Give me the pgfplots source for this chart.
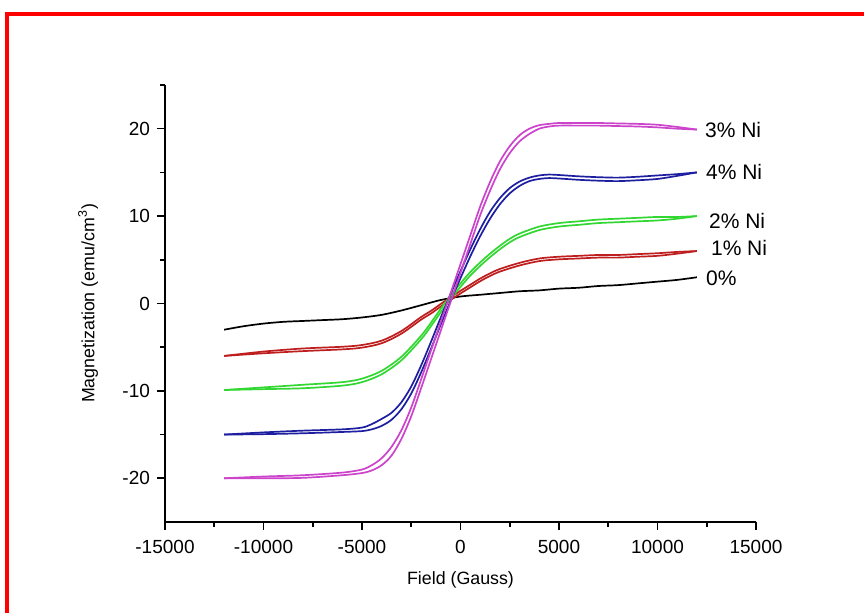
\documentclass[border=0pt]{standalone}
\usepackage{fontspec}
\setmainfont{Liberation Sans}
\usepackage{pgfplots}
\pgfplotsset{compat=1.18}
\definecolor{cM}{RGB}{204,68,204}
\definecolor{cB}{RGB}{30,30,160}
\definecolor{cG}{RGB}{50,215,50}
\definecolor{cR}{RGB}{190,30,30}

\begin{document}
\begin{tikzpicture}
\useasboundingbox (0,0) rectangle (432pt,306.5pt);
\fill[white] (0,0) rectangle (432pt,306.5pt);
\draw[red, line width=2pt] (3.5pt,0) -- (3.5pt,299.5pt) -- (432pt,299.5pt);
\begin{axis}[
  at={(82.5pt,45.5pt)}, anchor=south west, scale only axis,
  width=295.5pt, height=218.5pt,
  xmin=-15000, xmax=15000, ymin=-25, ymax=25,
  axis x line*=bottom, axis y line*=left,
  axis line style={line width=1pt, -},
  xtick={-15000,-10000,...,15000}, ytick={-20,-10,0,10,20},
  minor x tick num=1, minor ytick={-15,-5,5,15,25},
  tick align=outside, major tick length=4pt, minor tick length=2.5pt,
  tick style={line width=0.8pt, black},
  scaled x ticks=false,
  /pgf/number format/1000 sep={},
  /pgf/number format/assume math mode=true,
  tick label style={font=\fontsize{9.5}{11}\selectfont},
  xticklabel style={yshift=-1.5pt},
  label style={font=\fontsize{8.9}{10}\selectfont},
  xlabel={Field (Gauss)},
  ylabel={Magnetization (emu/cm\textsuperscript{3})},
  xlabel style={at={(axis description cs:0.5,-0.133)}, anchor=center},
  ylabel style={at={(axis description cs:-0.130,0.5)}, anchor=center},
  clip=false,
  every axis plot/.append style={line width=0.85pt, smooth},
]
% 0%
\addplot[black] coordinates {
  (-12000,-3.0)(-11000,-2.6)(-10000,-2.3)(-9000,-2.1)(-8000,-2.0)(-7000,-1.9)
  (-6000,-1.8)(-5000,-1.6)(-4000,-1.3)(-3000,-0.8)(-2000,-0.2)(-1000,0.4)
  (0,0.8)(1000,1.0)(2000,1.2)(3000,1.4)(4000,1.5)(5000,1.7)(6000,1.8)
  (7000,2.0)(8000,2.1)(9000,2.3)(10000,2.5)(11000,2.7)(12000,3.0)
};
% 1% Ni
\addplot[cR] coordinates {
  (-12000,-6.0)(-10000,-5.5)(-8000,-5.15)(-6000,-4.95)(-5000,-4.75)(-4000,-4.25)
  (-3000,-3.15)(-2000,-1.55)(-1500,-0.85)(-1000,-0.05)(-500,0.7)(0,1.45)
  (500,2.15)(1000,2.85)(1500,3.45)(2000,3.95)(3000,4.65)(4000,5.15)(5000,5.35)
  (6000,5.45)(7000,5.55)(8000,5.55)(9000,5.65)(10000,5.75)(11000,5.9)(12000,6.0)
};
\addplot[cR] coordinates {
  (-12000,-6.0)(-10000,-5.7)(-8000,-5.45)(-6000,-5.25)(-5000,-5.05)(-4000,-4.55)
  (-3000,-3.45)(-2000,-1.85)(-1500,-1.15)(-1000,-0.35)(-500,0.4)(0,1.15)
  (500,1.85)(1000,2.55)(1500,3.15)(2000,3.65)(3000,4.35)(4000,4.85)(5000,5.05)
  (6000,5.15)(7000,5.25)(8000,5.25)(9000,5.35)(10000,5.45)(11000,5.7)(12000,6.0)
};
% 2% Ni
\addplot[cG] coordinates {
  (-12000,-9.9)(-10000,-9.6)(-8000,-9.3)(-6000,-9.0)(-5000,-8.6)(-4000,-7.7)
  (-3000,-6.1)(-2000,-3.7)(-1500,-2.2)(-1000,-0.6)(-500,0.9)(0,2.3)
  (500,3.6)(1000,4.7)(1500,5.7)(2000,6.6)(2500,7.4)(3000,8.0)(4000,8.8)
  (5000,9.2)(6000,9.4)(7000,9.6)(8000,9.7)(9000,9.8)(10000,9.9)(11000,9.9)(12000,10.0)
};
\addplot[cG] coordinates {
  (-12000,-9.9)(-10000,-9.8)(-8000,-9.7)(-6000,-9.4)(-5000,-9.0)(-4000,-8.1)
  (-3000,-6.5)(-2000,-4.1)(-1500,-2.6)(-1000,-1.0)(-500,0.5)(0,1.9)
  (500,3.2)(1000,4.3)(1500,5.3)(2000,6.2)(2500,7.0)(3000,7.6)(4000,8.4)
  (5000,8.8)(6000,9.0)(7000,9.2)(8000,9.3)(9000,9.4)(10000,9.5)(11000,9.7)(12000,10.0)
};
% 4% Ni
\addplot[cB] coordinates {
  (-12000,-15.0)(-10000,-14.75)(-8000,-14.55)(-6000,-14.4)(-5000,-14.2)(-4500,-13.8)
  (-4000,-13.2)(-3500,-12.5)(-3000,-11.3)(-2500,-9.5)(-2000,-7.1)(-1500,-4.4)
  (-1000,-1.6)(-500,1.1)(0,3.7)(500,6.2)(1000,8.5)(1500,10.5)(2000,12.05)
  (2500,13.2)(3000,13.95)(3500,14.4)(4000,14.65)(4500,14.75)(5000,14.7)
  (6000,14.55)(7000,14.45)(8000,14.4)(9000,14.5)(10000,14.65)(11000,14.8)(12000,15.0)
};
\addplot[cB] coordinates {
  (-12000,-15.0)(-10000,-14.95)(-8000,-14.85)(-6000,-14.7)(-5000,-14.6)(-4500,-14.4)
  (-4000,-14.0)(-3500,-13.3)(-3000,-12.1)(-2500,-10.3)(-2000,-7.9)(-1500,-5.2)
  (-1000,-2.4)(-500,0.3)(0,2.9)(500,5.4)(1000,7.7)(1500,9.7)(2000,11.35)
  (2500,12.6)(3000,13.45)(3500,14.0)(4000,14.25)(4500,14.35)(5000,14.3)
  (6000,14.15)(7000,14.05)(8000,14.0)(9000,14.1)(10000,14.25)(11000,14.6)(12000,15.0)
};
% 3% Ni
\addplot[cM] coordinates {
  (-12000,-20.0)(-10000,-19.8)(-8000,-19.65)(-6000,-19.35)(-5000,-19.0)(-4500,-18.5)
  (-4000,-17.7)(-3500,-16.4)(-3000,-14.5)(-2500,-11.9)(-2000,-8.7)(-1500,-5.4)
  (-1000,-2.1)(-500,1.2)(0,4.5)(500,7.8)(1000,11.1)(1500,13.9)(2000,16.25)
  (2500,18.0)(3000,19.25)(3500,20.0)(4000,20.4)(4500,20.55)(5000,20.65)
  (6000,20.65)(7000,20.65)(8000,20.6)(9000,20.55)(10000,20.45)(11000,20.2)(12000,19.9)
};
\addplot[cM] coordinates {
  (-12000,-20.0)(-10000,-20.0)(-8000,-19.95)(-6000,-19.65)(-5000,-19.4)(-4500,-19.1)
  (-4000,-18.5)(-3500,-17.4)(-3000,-15.5)(-2500,-12.9)(-2000,-9.7)(-1500,-6.4)
  (-1000,-3.1)(-500,0.2)(0,3.5)(500,6.8)(1000,10.1)(1500,12.9)(2000,15.35)
  (2500,17.2)(3000,18.55)(3500,19.4)(4000,20.0)(4500,20.25)(5000,20.35)
  (6000,20.35)(7000,20.35)(8000,20.3)(9000,20.25)(10000,20.15)(11000,20.0)(12000,19.9)
};
\begin{scope}[every node/.style={anchor=west, inner sep=0pt, font=\fontsize{10.5}{12}\selectfont}]
\node at (axis cs:12400,19.9) {3\% Ni};
\node at (axis cs:12450,15.1) {4\% Ni};
\node at (axis cs:12600,9.5) {2\% Ni};
\node at (axis cs:12700,6.3) {1\% Ni};
\node at (axis cs:12450,2.9) {0\%};
\end{scope}
\end{axis}
\end{tikzpicture}
\end{document}
